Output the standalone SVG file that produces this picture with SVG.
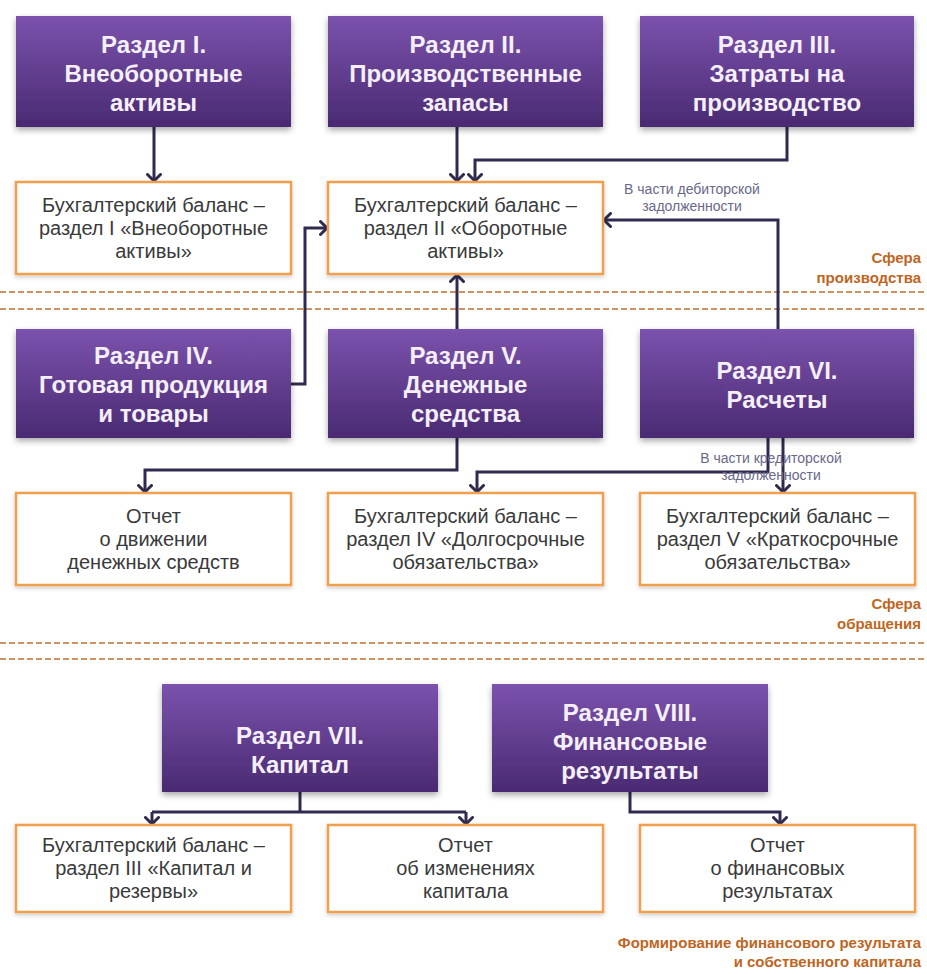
<svg xmlns="http://www.w3.org/2000/svg" width="927" height="974" viewBox="0 0 927 974">
<defs>
<linearGradient id="pg" x1="0" y1="0" x2="0" y2="1">
<stop offset="0" stop-color="#7b52ad"/>
<stop offset="1" stop-color="#4a2a72"/>
</linearGradient>
<filter id="sh" x="-10%" y="-10%" width="120%" height="130%">
<feDropShadow dx="0" dy="3" stdDeviation="3" flood-color="#000" flood-opacity="0.35"/>
</filter>
<filter id="sh2" x="-10%" y="-10%" width="120%" height="130%">
<feDropShadow dx="0" dy="2" stdDeviation="2" flood-color="#000" flood-opacity="0.2"/>
</filter>
<marker id="ah" markerUnits="userSpaceOnUse" markerWidth="16" markerHeight="16" refX="8" refY="8" orient="auto" viewBox="0 0 16 16">
<path d="M1.5,1.5 L8,8 L1.5,14.5" fill="none" stroke="#2e2b4f" stroke-width="3" stroke-linecap="round" stroke-linejoin="round"/>
</marker>
</defs>
<style>
.p{fill:url(#pg);filter:url(#sh)}
.o{fill:#fff;stroke:#f0a04e;stroke-width:2.5;filter:url(#sh2)}
.pt{font-family:"Liberation Sans Narrow","Liberation Sans",Arial,sans-serif;font-weight:bold;font-size:24px;fill:#f4eff8;text-anchor:middle}
.ot{font-family:"Liberation Sans Narrow","Liberation Sans",Arial,sans-serif;font-size:20px;fill:#3a3a3a;text-anchor:middle}
.c{fill:none;stroke:#2e2b4f;stroke-width:3;marker-end:url(#ah)}
.cn{fill:none;stroke:#2e2b4f;stroke-width:3}
.lb{font-family:"Liberation Sans Narrow","Liberation Sans",Arial,sans-serif;font-size:14px;fill:#6a6888;text-anchor:middle}
.sf{font-family:"Liberation Sans",Arial,sans-serif;font-weight:bold;font-size:15px;fill:#c0651e;text-anchor:end}
.d{stroke:#c07030;stroke-width:1.5;stroke-dasharray:6 3}
</style>
<rect width="927" height="974" fill="#fff"/>
<g id="dividers">
<line class="d" x1="0" y1="292" x2="927" y2="292"/>
<line class="d" x1="0" y1="309" x2="927" y2="309"/>
<line class="d" x1="0" y1="643" x2="927" y2="643"/>
<line class="d" x1="0" y1="659" x2="927" y2="659"/>
</g>
<g id="connectors">
<path class="c" d="M154,127 V181"/>
<path class="c" d="M457,127 V181"/>
<path class="c" d="M787,127 V160 H475 V181"/>
<path class="c" d="M291,384 H305 V228 H327"/>
<path class="c" d="M457,329 V275"/>
<path class="c" d="M778,329 V220 H604"/>
<path class="c" d="M457,438 V470 H145 V492"/>
<path class="c" d="M768,437 V472 H477 V492"/>
<path class="c" d="M783,437 V492"/>
<path class="cn" d="M300,792 V812 H152 M300,812 H466"/>
<path class="c" d="M152,812 V824"/>
<path class="c" d="M466,812 V824"/>
<path class="c" d="M630,792 V812 H780 V824"/>
</g>
<g id="n1"><rect class="p" x="16" y="16" width="275" height="111"/>
<text class="pt" x="153.5" y="53">Раздел I.</text><text class="pt" x="153.5" y="82">Внеоборотные</text><text class="pt" x="153.5" y="111">активы</text></g>
<g id="n2"><rect class="p" x="328" y="16" width="275" height="111"/>
<text class="pt" x="465.5" y="53">Раздел II.</text><text class="pt" x="465.5" y="82">Производственные</text><text class="pt" x="465.5" y="111">запасы</text></g>
<g id="n3"><rect class="p" x="640" y="16" width="274" height="111"/>
<text class="pt" x="777" y="53">Раздел III.</text><text class="pt" x="777" y="82">Затраты на</text><text class="pt" x="777" y="111">производство</text></g>
<g id="o1"><rect class="o" x="16" y="182" width="275" height="92"/>
<text class="ot" x="153.5" y="212">Бухгалтерский баланс –</text><text class="ot" x="153.5" y="235">раздел I «Внеоборотные</text><text class="ot" x="153.5" y="258">активы»</text></g>
<g id="o2"><rect class="o" x="328" y="182" width="275" height="92"/>
<text class="ot" x="465.5" y="212">Бухгалтерский баланс –</text><text class="ot" x="465.5" y="235">раздел II «Оборотные</text><text class="ot" x="465.5" y="258">активы»</text></g>
<g id="n4"><rect class="p" x="16" y="329" width="275" height="109"/>
<text class="pt" x="153.5" y="364">Раздел IV.</text><text class="pt" x="153.5" y="393">Готовая продукция</text><text class="pt" x="153.5" y="422">и товары</text></g>
<g id="n5"><rect class="p" x="328" y="329" width="275" height="109"/>
<text class="pt" x="465.5" y="364">Раздел V.</text><text class="pt" x="465.5" y="393">Денежные</text><text class="pt" x="465.5" y="422">средства</text></g>
<g id="n6"><rect class="p" x="640" y="329" width="274" height="109"/>
<text class="pt" x="777" y="379">Раздел VI.</text><text class="pt" x="777" y="408">Расчеты</text></g>
<g id="o3"><rect class="o" x="16" y="493" width="275" height="92"/>
<text class="ot" x="153.5" y="523">Отчет</text><text class="ot" x="153.5" y="546">о движении</text><text class="ot" x="153.5" y="569">денежных средств</text></g>
<g id="o4"><rect class="o" x="328" y="493" width="275" height="92"/>
<text class="ot" x="465.5" y="523">Бухгалтерский баланс –</text><text class="ot" x="465.5" y="546">раздел IV «Долгосрочные</text><text class="ot" x="465.5" y="569">обязательства»</text></g>
<g id="o5"><rect class="o" x="640" y="493" width="275" height="92"/>
<text class="ot" x="777.5" y="523">Бухгалтерский баланс –</text><text class="ot" x="777.5" y="546">раздел V «Краткосрочные</text><text class="ot" x="777.5" y="569">обязательства»</text></g>
<g id="n7"><rect class="p" x="162" y="684" width="276" height="108"/>
<text class="pt" x="300" y="744">Раздел VII.</text><text class="pt" x="300" y="773">Капитал</text></g>
<g id="n8"><rect class="p" x="492" y="684" width="276" height="108"/>
<text class="pt" x="630" y="721">Раздел VIII.</text><text class="pt" x="630" y="750">Финансовые</text><text class="pt" x="630" y="779">результаты</text></g>
<g id="o6"><rect class="o" x="16" y="825" width="275" height="87"/>
<text class="ot" x="153.5" y="852">Бухгалтерский баланс –</text><text class="ot" x="153.5" y="875">раздел III «Капитал и</text><text class="ot" x="153.5" y="898">резервы»</text></g>
<g id="o7"><rect class="o" x="328" y="825" width="275" height="87"/>
<text class="ot" x="465.5" y="852">Отчет</text><text class="ot" x="465.5" y="875">об изменениях</text><text class="ot" x="465.5" y="898">капитала</text></g>
<g id="o8"><rect class="o" x="640" y="825" width="275" height="87"/>
<text class="ot" x="777.5" y="852">Отчет</text><text class="ot" x="777.5" y="875">о финансовых</text><text class="ot" x="777.5" y="898">результатах</text></g>
<g id="labels">
<text class="lb" x="692" y="194">В части дебиторской</text>
<text class="lb" x="692" y="211">задолженности</text>
<text class="lb" x="771" y="463">В части кредиторской</text>
<text class="lb" x="771" y="480">задолженности</text>
<text class="sf" x="921" y="263">Сфера</text>
<text class="sf" x="921" y="283">производства</text>
<text class="sf" x="921" y="609">Сфера</text>
<text class="sf" x="921" y="629">обращения</text>
<text class="sf" x="921" y="948">Формирование финансового результата</text>
<text class="sf" x="921" y="967">и собственного капитала</text>
</g>
</svg>
